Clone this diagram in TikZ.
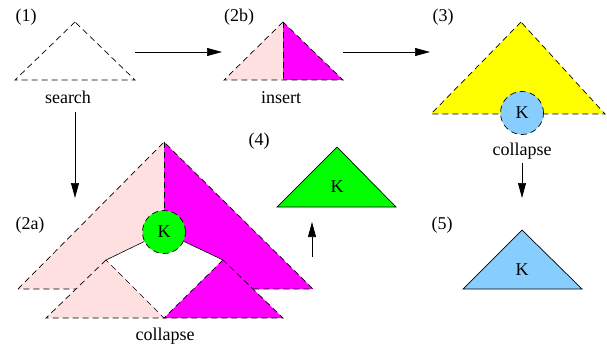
\documentclass[tikz,border=0pt]{standalone}
\usepackage{fontspec}
\setmainfont{Liberation Serif}
\newfontfamily\timesf{Liberation Serif}
\usetikzlibrary{arrows.meta}
\definecolor{pinkf}{RGB}{255,224,224}
\definecolor{magf}{RGB}{255,0,255}
\definecolor{yelf}{RGB}{255,255,0}
\definecolor{bluef}{RGB}{135,206,255}
\definecolor{greenf}{RGB}{0,255,0}
\tikzset{
  tree/.style={draw=black, line width=0.7pt, dash pattern=on 6pt off 4pt},
  plain/.style={draw=black, line width=0.7pt},
  thinline/.style={draw=black, line width=0.6pt},
  lbl/.style={font=\timesf\fontsize{18}{20}\selectfont, inner sep=0pt, anchor=base},
  klbl/.style={font=\timesf\fontsize{18}{20}\selectfont, inner sep=0pt},
  knode/.style={circle, draw=black, line width=0.7pt, dash pattern=on 6pt off 4pt,
                minimum size=43pt, inner sep=0pt, font=\timesf\fontsize{18}{20}\selectfont},
  arr/.style={-{Triangle[length=15pt,width=8pt]}, line width=0.7pt}
}
\begin{document}
\begin{tikzpicture}[x=1pt,y=-1pt]
\useasboundingbox (0,0) rectangle (607,350);

% ---------- (1)
\node[lbl] (l1) at (26,22) {(1)};
\draw[tree] (75,22) -- (15,80) -- (135,80) -- cycle;
\node[lbl] (search) at (68,104) {search};

% ---------- (2b)
\node[lbl] (l2b) at (239,22) {(2b)};
\fill[pinkf] (283,22) -- (224,80) -- (283,80) -- cycle;
\fill[magf] (283,22) -- (343,80) -- (283,80) -- cycle;
\draw[tree] (283,22) -- (224,80) -- (343,80) -- cycle;
\draw[tree] (283,22) -- (283,80);
\node[lbl] (insert) at (281,103) {insert};

% ---------- (3)
\node[lbl] (l3) at (443,22) {(3)};
\filldraw[tree, fill=yelf] (521,22) -- (431,114) -- (605,114) -- cycle;
\node[knode, fill=bluef] (k3) at (522,113) {K};
\node[lbl] (coll3) at (522,155) {collapse};

% ---------- (4)
\node[lbl] (l4) at (259,146) {(4)};
\filldraw[plain, fill=greenf] (337,147) -- (277,207) -- (396,207) -- cycle;
\node[klbl] (k4) at (337,187) {K};

% ---------- (5)
\node[lbl] (l5) at (442,229) {(5)};
\filldraw[plain, fill=bluef] (522,230) -- (463,289) -- (582,289) -- cycle;
\node[klbl] (k5) at (522,270) {K};

% ---------- (2a)
\node[lbl] (l2a) at (30,229) {(2a)};
\fill[pinkf] (164,142) -- (18,289) -- (164,289) -- cycle;
\fill[magf] (164,142) -- (313,289) -- (164,289) -- cycle;
\draw[tree] (18,289) -- (164,142) -- (313,289) -- cycle;
\draw[tree] (164,142) -- (164,232);
\coordinate (aL) at (106,260);
\coordinate (aR) at (223,260);
\fill[white] (164,232) -- (aL) -- (164,318) -- (aR) -- cycle;
\filldraw[tree, fill=pinkf] (aL) -- (46,318) -- (164,318) -- cycle;
\filldraw[tree, fill=magf] (aR) -- (164,318) -- (283,318) -- cycle;
\node[knode, fill=greenf] (k2a) at (164,232) {K};
\draw[thinline] (k2a) -- (aL);
\draw[thinline] (k2a) -- (aR);
\node[lbl] (coll2a) at (165,340) {collapse};

% ---------- arrows
\coordinate (a1s) at (135,52);  \coordinate (a1e) at (222,52);
\coordinate (a2s) at (343,52);  \coordinate (a2e) at (430,52);
\coordinate (a3s) at (75,112);  \coordinate (a3e) at (75,198);
\coordinate (a4s) at (522,163); \coordinate (a4e) at (522,198);
\coordinate (a5s) at (312,257); \coordinate (a5e) at (312,222);
\draw[arr] (a1s) -- (a1e);
\draw[arr] (a2s) -- (a2e);
\draw[arr] (a3s) -- (a3e);
\draw[arr] (a4s) -- (a4e);
\draw[arr] (a5s) -- (a5e);
\end{tikzpicture}
\end{document}
